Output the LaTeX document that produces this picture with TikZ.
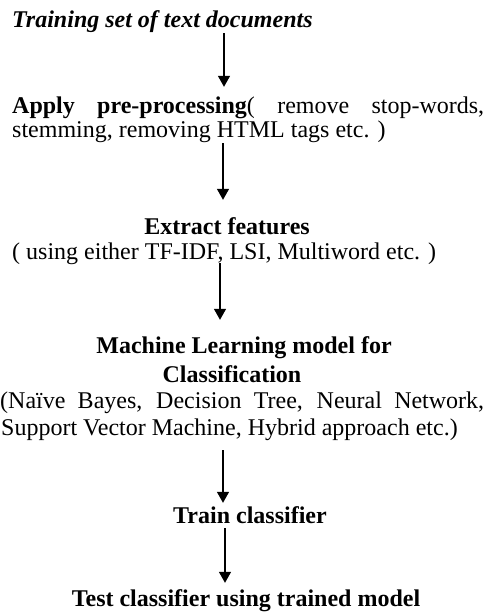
\documentclass[tikz,border=0pt]{standalone}
\usepackage{fontspec}
\setmainfont{Liberation Serif}
\usetikzlibrary{arrows.meta}

\begin{document}
\begin{tikzpicture}[x=1pt,y=-1pt,
  txt/.style={inner sep=0pt, text height=17pt, text depth=6pt,
              font=\fontsize{24}{27}\selectfont},
  arr/.style={line width=1.4pt, -{Triangle[length=11pt,width=12pt]}}]
  \useasboundingbox (0,0) rectangle (487,614);

  % x positions of the vertical arrows
  \coordinate (ax1) at (224,0);
  \coordinate (ax2) at (223,0);
  \coordinate (ax3) at (220,0);
  \coordinate (ax4) at (223,0);
  \coordinate (ax5) at (225,0);

  % step 1
  \node[txt, anchor=base west] (title) at (12,27)
    {\textbf{\textit{Training set of text documents}}};

  % step 2
  \node[txt, anchor=base west] (pre1) at (12,113)
    {\makebox[472pt][s]{\textbf{Apply pre-processing}( remove stop-words,}};
  \node[txt, anchor=base west] (pre2) at (12,137)
    {stemming, removing HTML tags etc. )};

  % step 3
  \node[txt, anchor=base] (ext1) at (227,234) {\textbf{Extract features}};
  \node[txt, anchor=base west] (ext2) at (12,259)
    {( using either TF-IDF, LSI, Multiword etc. )};

  % step 4
  \node[txt, anchor=base] (ml1) at (244,353) {\textbf{Machine Learning model for}};
  \node[txt, anchor=base] (ml2) at (232,382) {\textbf{Classification}};
  \node[txt, anchor=base west] (ml3) at (0,408)
    {\makebox[484pt][s]{(Naïve Bayes, Decision Tree, Neural Network,}};
  \node[txt, anchor=base west] (ml4) at (1,435)
    {Support Vector Machine, Hybrid approach etc.)};

  % step 5
  \node[txt, anchor=base] (train) at (250,523) {\textbf{Train classifier}};

  % step 6
  \node[txt, anchor=base] (test) at (246,606) {\textbf{Test classifier using trained model}};

  % connectors
  \draw[arr, shorten <=0pt, shorten >=9pt]  (title.south -| ax1) -- (pre1.north -| ax1);
  \draw[arr, shorten <=0pt, shorten >=17pt] (pre2.south -| ax2)  -- (ext1.north -| ax2);
  \draw[arr, shorten <=-2pt, shorten >=16pt] (ext2.south -| ax3) -- (ml1.north -| ax3);
  \draw[arr, shorten <=9pt, shorten >=3pt]  (ml4.south -| ax4)   -- (train.north -| ax4);
  \draw[arr, shorten <=-1pt, shorten >=6pt] (train.south -| ax5) -- (test.north -| ax5);
\end{tikzpicture}
\end{document}
